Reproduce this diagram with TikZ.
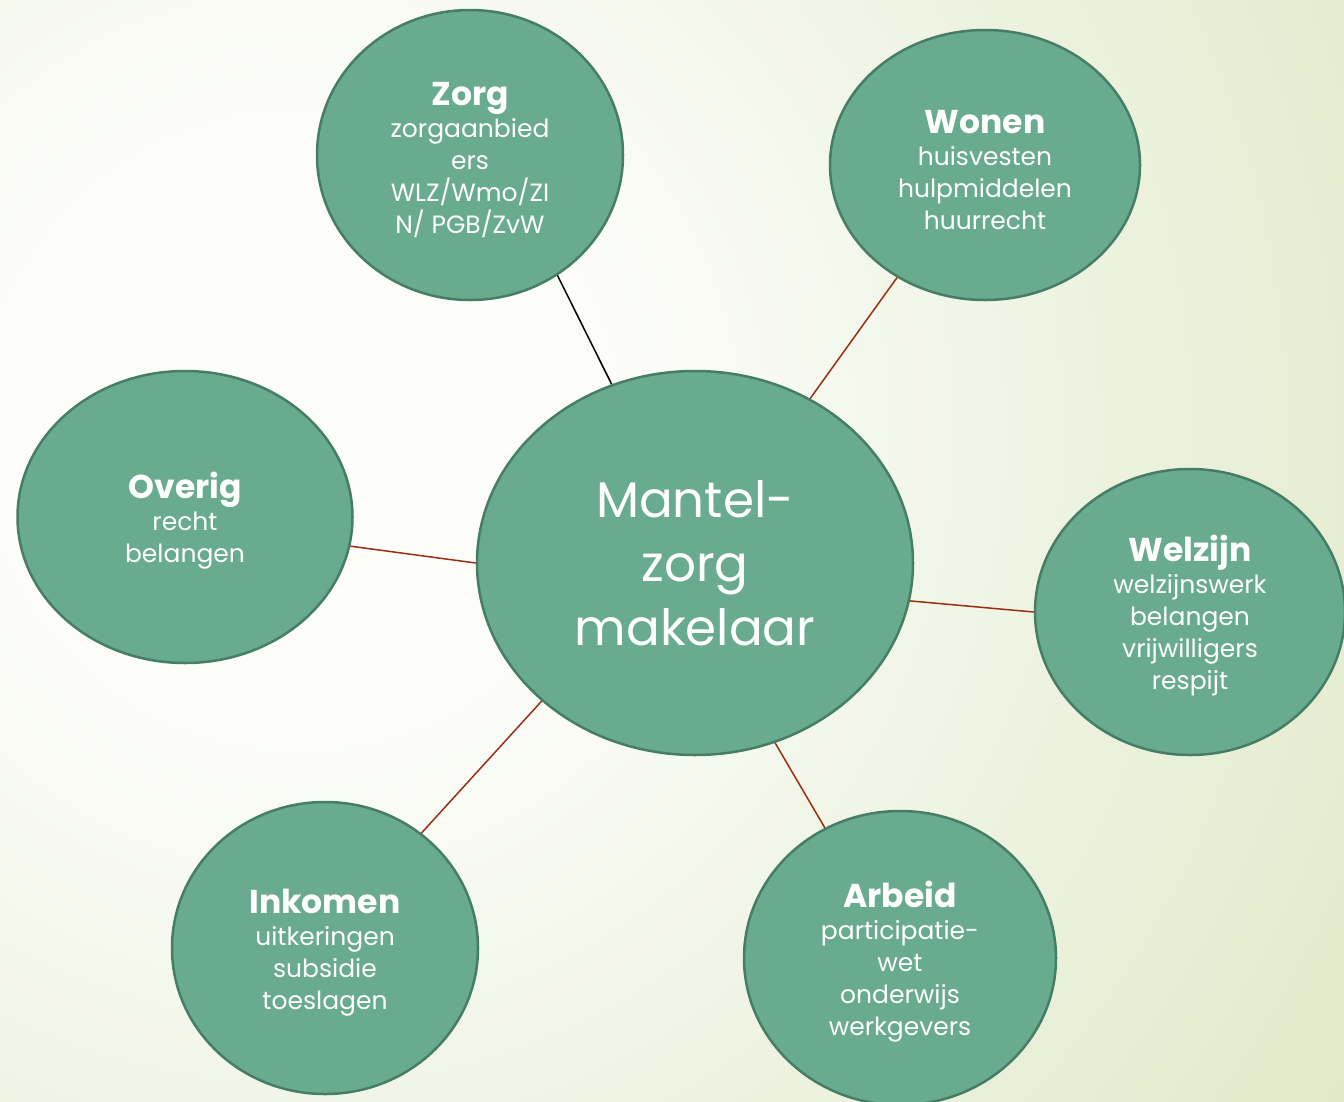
\documentclass[tikz,border=0pt]{standalone}
\usepackage{fontspec}
\setmainfont{Poppins}
\usetikzlibrary{shapes.geometric}

\definecolor{bolgroen}{HTML}{69AB8F}
\definecolor{randgroen}{HTML}{467D65}
\definecolor{lijnrood}{HTML}{9A2E14}
\definecolor{achterlicht}{HTML}{FCFDFA}
\definecolor{achtergroen}{HTML}{E0E9C8}

\pgfdeclareradialshading{achtergrond}{\pgfpoint{0bp}{0bp}}{%
  color(0bp)=(achterlicht); color(6bp)=(achterlicht);
  color(25bp)=(achtergroen); color(50bp)=(achtergroen)}

\newcommand\kop[1]{{\fontsize{33}{32}\selectfont\bfseries\rule{0pt}{34pt}#1}}

\begin{document}
\begin{tikzpicture}[x=1pt,y=-1pt,
    bol/.style={ellipse,draw=randgroen,line width=2.5pt,fill=bolgroen,text=white,
      align=center,inner sep=0pt,font=\fontsize{25}{32}\selectfont},
    lijn/.style={draw=lijnrood,line width=1.5pt}]
  \useasboundingbox (0,0) rectangle (1344,1101);
  \clip (0,0) rectangle (1344,1101);
  % achtergrond
  \fill[achtergroen] (0,0) rectangle (1344,1101);
  \shade[shading=achtergrond] (300,430) circle (1250pt);

  % midden
  \node[bol,minimum width=436pt,minimum height=384pt,
    font=\fontsize{50}{64}\selectfont] (mz) at (695,563) {Mantel-\\zorg\\makelaar};

  % de zes bollen eromheen
  \node[bol,minimum width=306pt,minimum height=290pt] (zorg) at (470,155)
    {\kop{Zorg}\\zorgaanbied\\ers\\WLZ/Wmo/ZI\\N/ PGB/ZvW};
  \node[bol,minimum width=310pt,minimum height=270pt] (wonen) at (985,165)
    {\kop{Wonen}\\huisvesten\\hulpmiddelen\\huurrecht};
  \node[bol,minimum width=335pt,minimum height=292pt] (overig) at (185,517)
    {\kop{Overig}\\recht\\belangen};
  \node[bol,minimum width=310pt,minimum height=286pt] (welzijn) at (1190,612)
    {\kop{Welzijn}\\welzijnswerk\\belangen\\vrijwilligers\\respijt};
  \node[bol,minimum width=306pt,minimum height=292pt] (inkomen) at (325,948)
    {\kop{Inkomen}\\uitkeringen\\subsidie\\toeslagen};
  \node[bol,minimum width=312pt,minimum height=294pt] (arbeid) at (900,958)
    {\kop{Arbeid}\\participatie-\\wet\\onderwijs\\werkgevers};

  % verbindingen
  \draw[line width=1.5pt] (zorg.-54) -- (mz.115.5);
  \draw[lijn] (wonen.-128.5) -- (mz.55.8);
  \draw[lijn] (overig.-10) -- (mz.180);
  \draw[lijn] (mz.-10.5) -- (welzijn.180);
  \draw[lijn] (mz.-138.5) -- (inkomen.50.7);
  \draw[lijn] (mz.-66.6) -- (arbeid.120.4);
\end{tikzpicture}
\end{document}
